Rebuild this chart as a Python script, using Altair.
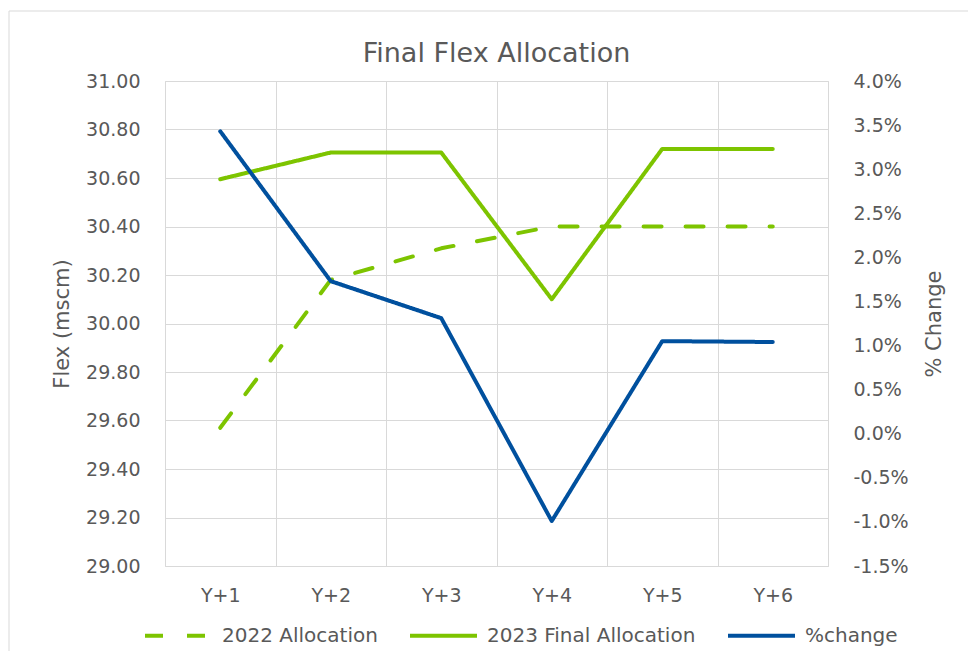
import altair as alt
import pandas as pd

years = ["Y+1", "Y+2", "Y+3", "Y+4", "Y+5", "Y+6"]
alloc_2022 = [29.57, 30.18, 30.31, 30.40, 30.40, 30.40]
final_2023 = [30.595, 30.705, 30.705, 30.10, 30.72, 30.72]
pct_change = [3.43, 1.73, 1.31, -0.99, 1.05, 1.04]

series_names = ["2022 Allocation", "2023 Final Allocation", "%change"]
left_ticks = [29.0, 29.2, 29.4, 29.6, 29.8, 30.0, 30.2, 30.4, 30.6, 30.8, 31.0]
right_ticks = [-1.5, -1.0, -0.5, 0.0, 0.5, 1.0, 1.5, 2.0, 2.5, 3.0, 3.5, 4.0]

GREEN = "#7dc400"
BLUE = "#00509e"
GRID = "#d9d9d9"
TEXT = "#595959"
FONT = "DejaVu Sans"

left_df = pd.DataFrame(
    {
        "year": years * 2,
        "series": [series_names[0]] * 6 + [series_names[1]] * 6,
        "value": alloc_2022 + final_2023,
    }
)
right_df = pd.DataFrame(
    {"year": years, "series": [series_names[2]] * 6, "value": pct_change}
)

legend = alt.Legend(
    title=None,
    orient="none",
    direction="horizontal",
    legendX=-22,
    legendY=519,
    symbolType="stroke",
    symbolSize=4489,
    symbolStrokeWidth=4,
    labelFontSize=20,
    labelColor=TEXT,
    labelFont=FONT,
    labelOffset=8,
    labelLimit=0,
    columnPadding=24,
    padding=0,
)

color = alt.Color(
    "series:N",
    scale=alt.Scale(domain=series_names, range=[GREEN, GREEN, BLUE]),
    legend=legend,
)
dash = alt.StrokeDash(
    "series:N",
    scale=alt.Scale(domain=series_names, range=[[18, 24], [1, 0], [1, 0]]),
    legend=legend,
)

x_enc = alt.X(
    "year:N",
    sort=years,
    scale=alt.Scale(type="band", paddingInner=0, paddingOuter=0),
    axis=alt.Axis(
        title=None,
        grid=True,
        gridColor=GRID,
        tickBand="extent",
        domain=False,
        ticks=False,
        tickSize=0,
        labelAngle=0,
        labelPadding=20,
        labelFontSize=19,
        labelColor=TEXT,
        labelFont=FONT,
    ),
)

left = (
    alt.Chart(left_df)
    .mark_line(strokeWidth=4, strokeCap="round", strokeJoin="round")
    .encode(
        x=x_enc,
        y=alt.Y(
            "value:Q",
            scale=alt.Scale(domain=[29, 31], nice=False, zero=False),
            axis=alt.Axis(
                values=left_ticks,
                format=".2f",
                title="Flex (mscm)",
                grid=True,
                gridColor=GRID,
                domain=False,
                ticks=False,
                tickSize=0,
                labelPadding=25,
                labelFontSize=19,
                labelColor=TEXT,
                labelFont=FONT,
                titleFontSize=21,
                titleFontWeight="normal",
                titleColor=TEXT,
                titleFont=FONT,
                titleAngle=270,
                titleX=-103,
                titleY=242.5,
                titleAlign="center",
                titleBaseline="middle",
            ),
        ),
        color=color,
        strokeDash=dash,
    )
)

right = (
    alt.Chart(right_df)
    .mark_line(strokeWidth=4, strokeCap="round", strokeJoin="round")
    .encode(
        x=x_enc,
        y=alt.Y(
            "value:Q",
            scale=alt.Scale(domain=[-1.5, 4.0], nice=False, zero=False),
            axis=alt.Axis(
                orient="right",
                values=right_ticks,
                labelExpr="replace(format(datum.value, '.1f'), '\u2212', '-') + '%'",
                title="% Change",
                grid=False,
                domain=False,
                ticks=False,
                tickSize=0,
                labelPadding=25,
                labelFontSize=19,
                labelColor=TEXT,
                labelFont=FONT,
                titleFontSize=21,
                titleFontWeight="normal",
                titleColor=TEXT,
                titleFont=FONT,
                titleAngle=270,
                titleX=106,
                titleY=242.5,
                titleAlign="center",
                titleBaseline="middle",
            ),
        ),
        color=color,
        strokeDash=dash,
    )
)

frame = alt.Data(values=[{"k": 1}])
border_left = alt.Chart(frame).mark_rule(color=GRID, strokeWidth=1).encode(
    x=alt.value(-156), y=alt.value(-70), y2=alt.value(570)
)
border_top = alt.Chart(frame).mark_rule(color=GRID, strokeWidth=1).encode(
    x=alt.value(-156), x2=alt.value(803), y=alt.value(-70)
)

chart = (
    alt.layer(left, right, border_left, border_top)
    .resolve_scale(y="independent")
    .properties(
        width=663,
        height=485,
        autosize=alt.AutoSizeParams(type="none"),
        padding={"left": 157, "top": 73, "right": 140, "bottom": 85},
        title=alt.TitleParams(
            "Final Flex Allocation",
            fontSize=27,
            fontWeight="normal",
            color=TEXT,
            font=FONT,
            anchor="middle",
            frame="group",
            baseline="alphabetic",
            offset=-78,
        ),
    )
    .configure_view(stroke=GRID, strokeWidth=1)
    .configure(background="white")
)

chart.save("out.html", embed_options={"renderer": "svg", "actions": False})
